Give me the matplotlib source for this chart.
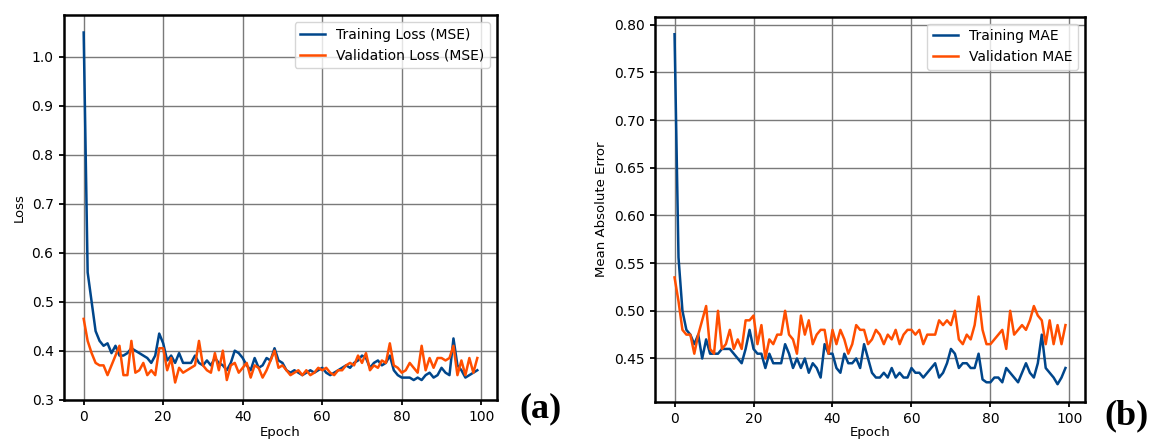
import numpy as np
import matplotlib
matplotlib.use("Agg")
from matplotlib import pyplot as plt

epochs = np.arange(100)

train_loss = [1.05, 0.56, 0.50, 0.44, 0.42, 0.41, 0.415, 0.395, 0.41, 0.39,
              0.39, 0.395, 0.405, 0.40, 0.395, 0.39, 0.385, 0.375, 0.39, 0.435,
              0.415, 0.38, 0.39, 0.375, 0.395, 0.375, 0.375, 0.375, 0.39, 0.375,
              0.37, 0.38, 0.37, 0.385, 0.375, 0.37, 0.36, 0.375, 0.40, 0.395,
              0.385, 0.37, 0.36, 0.385, 0.365, 0.37, 0.385, 0.38, 0.405, 0.38,
              0.375, 0.36, 0.355, 0.36, 0.355, 0.35, 0.355, 0.36, 0.355, 0.36,
              0.365, 0.355, 0.35, 0.355, 0.36, 0.365, 0.37, 0.365, 0.375, 0.38,
              0.39, 0.385, 0.365, 0.375, 0.38, 0.37, 0.375, 0.39, 0.36, 0.35,
              0.345, 0.345, 0.345, 0.34, 0.345, 0.34, 0.35, 0.355, 0.345, 0.35,
              0.365, 0.355, 0.35, 0.425, 0.37, 0.36, 0.345, 0.35, 0.355, 0.36]

val_loss = [0.465, 0.42, 0.395, 0.375, 0.37, 0.37, 0.35, 0.37, 0.39, 0.41,
            0.35, 0.35, 0.42, 0.355, 0.36, 0.375, 0.35, 0.36, 0.35, 0.405,
            0.405, 0.36, 0.385, 0.335, 0.365, 0.355, 0.36, 0.365, 0.37, 0.42,
            0.37, 0.36, 0.355, 0.395, 0.36, 0.40, 0.34, 0.37, 0.375, 0.355,
            0.365, 0.375, 0.345, 0.37, 0.365, 0.345, 0.36, 0.38, 0.40, 0.365,
            0.37, 0.36, 0.35, 0.355, 0.36, 0.35, 0.36, 0.35, 0.355, 0.365,
            0.36, 0.365, 0.355, 0.35, 0.36, 0.36, 0.37, 0.375, 0.37, 0.39,
            0.375, 0.395, 0.36, 0.37, 0.365, 0.38, 0.375, 0.415, 0.37, 0.365,
            0.355, 0.36, 0.375, 0.365, 0.355, 0.41, 0.36, 0.385, 0.365, 0.385,
            0.385, 0.38, 0.385, 0.41, 0.35, 0.38, 0.35, 0.385, 0.355, 0.385]

train_mae = [0.79, 0.556, 0.50, 0.48, 0.475, 0.465, 0.475, 0.45, 0.47, 0.455,
             0.455, 0.455, 0.46, 0.46, 0.46, 0.455, 0.45, 0.445, 0.46, 0.48,
             0.46, 0.455, 0.455, 0.44, 0.455, 0.445, 0.445, 0.445, 0.465, 0.455,
             0.44, 0.45, 0.44, 0.45, 0.435, 0.445, 0.44, 0.43, 0.465, 0.455,
             0.455, 0.44, 0.435, 0.455, 0.445, 0.445, 0.45, 0.44, 0.465, 0.45,
             0.435, 0.43, 0.43, 0.435, 0.43, 0.44, 0.43, 0.435, 0.43, 0.43,
             0.44, 0.435, 0.435, 0.43, 0.435, 0.44, 0.445, 0.43, 0.435, 0.445,
             0.46, 0.455, 0.44, 0.445, 0.445, 0.44, 0.44, 0.455, 0.428, 0.425,
             0.425, 0.43, 0.43, 0.425, 0.44, 0.435, 0.43, 0.425, 0.435, 0.445,
             0.435, 0.43, 0.445, 0.475, 0.44, 0.435, 0.43, 0.423, 0.43, 0.44]

val_mae = [0.535, 0.51, 0.48, 0.475, 0.475, 0.455, 0.475, 0.49, 0.505, 0.46,
           0.455, 0.50, 0.46, 0.465, 0.48, 0.46, 0.47, 0.46, 0.49, 0.49,
           0.495, 0.465, 0.485, 0.45, 0.47, 0.465, 0.475, 0.475, 0.50, 0.475,
           0.47, 0.455, 0.495, 0.475, 0.49, 0.465, 0.475, 0.48, 0.48, 0.455,
           0.48, 0.465, 0.48, 0.47, 0.455, 0.465, 0.485, 0.48, 0.48, 0.465,
           0.47, 0.48, 0.475, 0.465, 0.475, 0.47, 0.48, 0.465, 0.475, 0.48,
           0.48, 0.475, 0.48, 0.465, 0.475, 0.475, 0.475, 0.49, 0.485, 0.49,
           0.485, 0.50, 0.47, 0.465, 0.475, 0.47, 0.485, 0.515, 0.48, 0.465,
           0.465, 0.47, 0.475, 0.48, 0.46, 0.50, 0.475, 0.48, 0.485, 0.48,
           0.49, 0.505, 0.495, 0.49, 0.465, 0.49, 0.465, 0.485, 0.465, 0.485]

blue = "#00468b"
orange = "#ff4e00"

plt.rcParams["font.family"] = "DejaVu Sans"
fig = plt.figure(figsize=(11.55, 4.43), dpi=100)
ax1 = fig.add_axes([0.0554, 0.0971, 0.3749, 0.869])
ax2 = fig.add_axes([0.5671, 0.0932, 0.3723, 0.869])

ax1.plot(epochs, train_loss, color=blue, lw=1.8, label="Training Loss (MSE)")
ax1.plot(epochs, val_loss, color=orange, lw=1.8, label="Validation Loss (MSE)")
ax1.set_ylabel("Loss", fontsize=9.5)
ax1.set_xlabel("Epoch", fontsize=9.5, labelpad=1)

ax2.plot(epochs, train_mae, color=blue, lw=1.8, label="Training MAE")
ax2.plot(epochs, val_mae, color=orange, lw=1.8, label="Validation MAE")
ax2.set_ylabel("Mean Absolute Error", fontsize=9.5)
ax2.set_xlabel("Epoch", fontsize=9.5, labelpad=0)
ax2.set_yticks([0.45, 0.50, 0.55, 0.60, 0.65, 0.70, 0.75, 0.80])

for ax in (ax1, ax2):
    ax.grid(True, color="#7a7a7a", lw=1.0)
    ax.set_xticks([0, 20, 40, 60, 80, 100])
    ax.tick_params(labelsize=10, width=1.3, pad=4)
    for s in ax.spines.values():
        s.set_linewidth(1.8)
    ax.legend(loc="upper right", fontsize=10, handlelength=1.8)

fig.text(0.450, 0.058, "(a)", fontsize=26, fontweight="bold", family="Liberation Serif")
fig.text(0.956, 0.042, "(b)", fontsize=26, fontweight="bold", family="Liberation Serif")

fig.savefig("out.png", dpi=100)
